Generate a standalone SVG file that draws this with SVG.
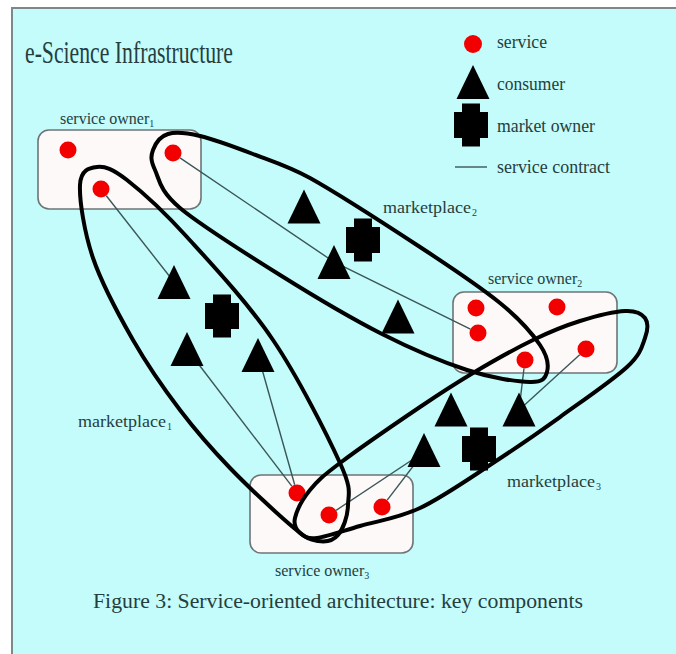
<svg xmlns="http://www.w3.org/2000/svg" xmlns:xlink="http://www.w3.org/1999/xlink" width="676" height="654" viewBox="0 0 676 654">
<style>
  .txt { font-family: "Liberation Serif", "Times New Roman", serif; fill: #253e3e; }
  .lbl { font-size: 16px; }
  .leg { font-size: 18px; }
  .box { fill: #fdf9f9; stroke: #6e7474; stroke-width: 1.6; }
  .svc { fill: #f20000; }
  .mk  { fill: none; stroke: #000; stroke-width: 4; stroke-linejoin: round; }
  .con { stroke: #3b5656; stroke-width: 1.4; fill: none; }
  .blk { fill: #000; }
</style>
<defs>
  <path id="tri" d="M0,-17 L16.5,17 L-16.5,17 Z"/>
  <path id="cross" d="M-9,-21.5 H9 V-13 H17 V13 H9 V21.5 H-9 V13 H-17 V-13 H-9 Z"/>
</defs>
<rect x="0" y="0" width="676" height="654" fill="#ffffff"/>
<rect x="12" y="8" width="664" height="646" fill="#c4fbfb"/>
<path d="M12,654 V8 H676" fill="none" stroke="#7d8888" stroke-width="2"/>

<g id="title">
  <text class="txt" x="25" y="63" font-size="31" textLength="208" lengthAdjust="spacingAndGlyphs" fill="#1a2828">e-Science Infrastructure</text>
</g>

<g id="legend">
  <circle class="svc" cx="473" cy="44" r="9"/>
  <text class="txt leg" x="497" y="48" textLength="50" lengthAdjust="spacingAndGlyphs">service</text>
  <use xlink:href="#tri" href="#tri" class="blk" x="473" y="82"/>
  <text class="txt leg" x="497" y="90" textLength="68" lengthAdjust="spacingAndGlyphs">consumer</text>
  <use xlink:href="#cross" href="#cross" class="blk" x="471" y="125"/>
  <text class="txt leg" x="497" y="132" textLength="98" lengthAdjust="spacingAndGlyphs">market owner</text>
  <line class="con" x1="455" y1="167" x2="487" y2="167" stroke-width="1.8"/>
  <text class="txt leg" x="497" y="173" textLength="113" lengthAdjust="spacingAndGlyphs">service contract</text>
</g>

<g id="service-owner-1">
  <rect class="box" x="38" y="130" width="163" height="79" rx="11"/>
  <text class="txt lbl" x="60" y="124">service owner<tspan font-size="10" dy="3">1</tspan></text>
  <circle class="svc" cx="68" cy="150" r="8.5"/>
  <circle class="svc" cx="173" cy="153" r="8.5"/>
  <circle class="svc" cx="101" cy="189" r="8.5"/>
</g>

<g id="service-owner-2">
  <rect class="box" x="453" y="292" width="164" height="81" rx="11"/>
  <text class="txt lbl" x="488" y="284">service owner<tspan font-size="10" dy="3">2</tspan></text>
  <circle class="svc" cx="476" cy="308" r="8.5"/>
  <circle class="svc" cx="557" cy="307" r="8.5"/>
  <circle class="svc" cx="478" cy="333" r="8.5"/>
  <circle class="svc" cx="525" cy="360" r="8.5"/>
  <circle class="svc" cx="586" cy="349" r="8.5"/>
</g>

<g id="service-owner-3">
  <rect class="box" x="250" y="475" width="163" height="78" rx="11"/>
  <text class="txt lbl" x="275" y="576">service owner<tspan font-size="10" dy="3">3</tspan></text>
  <circle class="svc" cx="297" cy="493" r="8.5"/>
  <circle class="svc" cx="329" cy="515" r="8.5"/>
  <circle class="svc" cx="382" cy="507" r="8.5"/>
</g>

<g id="contracts">
  <line class="con" x1="106.3" y1="195.7" x2="174" y2="282"/>
  <polyline class="con" points="180,157.8 334,262 470.4,329.2"/>
  <line class="con" x1="187" y1="349" x2="291.8" y2="486.2"/>
  <line class="con" x1="258" y1="355" x2="294.7" y2="484.8"/>
  <line class="con" x1="424" y1="452" x2="336.1" y2="510.3"/>
  <line class="con" x1="424" y1="452" x2="387.2" y2="500.2"/>
  <line class="con" x1="524" y1="368.4" x2="519" y2="410"/>
  <line class="con" x1="579.7" y1="354.7" x2="519" y2="410"/>
</g>

<g id="marketplace-1">
  <path class="mk" d="M80,185 C80.7,169.8 89.2,167.8 97,167 C104.8,166.2 112,168.3 127,180 C142,191.7 162.7,210.3 187,237 C211.3,263.7 247.5,302.3 273,340 C298.5,377.7 327.5,435.5 340,463 C352.5,490.5 348.3,493 348,505 C347.7,517 343,529 338,535 C333,541 325.3,542.2 318,541 C310.7,539.8 308.7,540.2 294,528 C279.3,515.8 249,487.7 230,468 C211,448.3 196.2,431.3 180,410 C163.8,388.7 147.5,365.3 133,340 C118.5,314.7 101.8,283.8 93,258 C84.2,232.2 79.3,200.2 80,185 Z"/>
  <text class="txt lbl" x="78" y="427" textLength="88" lengthAdjust="spacingAndGlyphs">marketplace</text>
  <text class="txt" x="167" y="430" font-size="10">1</text>
  <use xlink:href="#tri" href="#tri" class="blk" x="174" y="282"/>
  <use xlink:href="#cross" href="#cross" class="blk" x="222" y="316"/>
  <use xlink:href="#tri" href="#tri" class="blk" x="187" y="349"/>
  <use xlink:href="#tri" href="#tri" class="blk" x="258" y="355"/>
</g>

<g id="marketplace-2">
  <path class="mk" d="M153,150 C155.2,144 160.2,136.3 168,134 C175.8,131.7 185.8,132.7 200,136 C214.2,139.3 234.7,147 253,154 C271.3,161 288,166 310,178 C337.8,193.5 388.3,226.2 420,247 C451.7,267.8 480,286.7 500,303 C520,319.3 532.2,333.5 540,345 C547.8,356.5 548.7,365.8 547,372 C545.3,378.2 543.3,382.3 530,382 C516.7,381.7 492,378.2 467,370 C442,361.8 411.2,348.8 382,334 C350.8,318.2 313.3,295.8 280,275 C246.7,254.2 200.8,225.5 180,208 C159.2,190.5 159.5,179.7 155,170 C150.5,160.3 150.8,156 153,150 Z"/>
  <text class="txt lbl" x="383" y="213" textLength="88" lengthAdjust="spacingAndGlyphs">marketplace</text>
  <text class="txt" x="472" y="216" font-size="10">2</text>
  <use xlink:href="#tri" href="#tri" class="blk" x="304" y="206.5"/>
  <use xlink:href="#cross" href="#cross" class="blk" x="363" y="240"/>
  <use xlink:href="#tri" href="#tri" class="blk" x="334" y="262"/>
  <use xlink:href="#tri" href="#tri" class="blk" x="398" y="316.5"/>
</g>

<g id="marketplace-3">
  <path class="mk" d="M295,518 C296.7,510.8 302.5,499.2 310,490 C317.5,480.8 321.7,476.8 340,463 C358.3,449.2 397.8,422 420,407 C442.2,392 454.2,384.2 473,373 C491.8,361.8 515.2,348.7 533,340 C550.8,331.3 564.7,325.8 580,321 C595.3,316.2 614.2,311.5 625,311 C635.8,310.5 641.7,313.5 645,318 C648.3,322.5 648,329.8 645,338 C642,346.2 641.2,353.8 627,367 C612.8,380.2 582.3,401 560,417 C537.7,433 516.3,447.8 493,463 C469.7,478.2 442.2,497.5 420,508 C397.8,518.5 377.2,521 360,526 C342.8,531 327,536.8 317,538 C307,539.2 303.7,536.3 300,533 C296.3,529.7 293.3,525.2 295,518 Z"/>
  <text class="txt lbl" x="507" y="487" textLength="88" lengthAdjust="spacingAndGlyphs">marketplace</text>
  <text class="txt" x="596" y="490" font-size="10">3</text>
  <use xlink:href="#tri" href="#tri" class="blk" x="451" y="409.5"/>
  <use xlink:href="#tri" href="#tri" class="blk" x="519" y="409.5"/>
  <use xlink:href="#tri" href="#tri" class="blk" x="424" y="450"/>
  <use xlink:href="#cross" href="#cross" class="blk" x="479" y="449"/>
</g>

<g id="caption">
  <text class="txt" x="338" y="608" font-size="20" text-anchor="middle" textLength="490" lengthAdjust="spacingAndGlyphs" fill="#1e3030">Figure 3: Service-oriented architecture: key components</text>
</g>
</svg>
